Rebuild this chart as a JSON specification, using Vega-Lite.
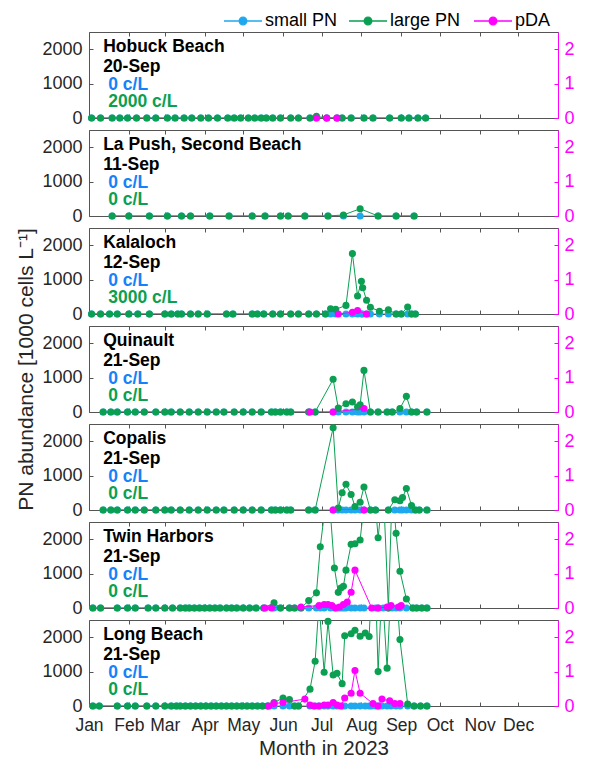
{
  "$schema": "https://vega.github.io/schema/vega-lite/v6.json",
  "padding": {"left": 15, "top": 12, "right": 5, "bottom": 0},
  "spacing": 12,
  "bounds": "flush",
  "config": {
    "font": "Liberation Sans",
    "view": {"stroke": "#555555", "strokeWidth": 1},
    "axis": {"grid": false}
  },
  "resolve": {"scale": {"x": "independent", "y": "independent", "color": "shared"}},
  "datasets": {
    "labels": [
      {"id": "hobuck", "name": "Hobuck Beach", "last": "20-Sep", "small": "0 c/L", "large": "2000 c/L"},
      {"id": "lapush", "name": "La Push, Second Beach", "last": "11-Sep", "small": "0 c/L", "large": "0 c/L"},
      {"id": "kalaloch", "name": "Kalaloch", "last": "12-Sep", "small": "0 c/L", "large": "3000 c/L"},
      {"id": "quinault", "name": "Quinault", "last": "21-Sep", "small": "0 c/L", "large": "0 c/L"},
      {"id": "copalis", "name": "Copalis", "last": "21-Sep", "small": "0 c/L", "large": "0 c/L"},
      {"id": "twin", "name": "Twin Harbors", "last": "21-Sep", "small": "0 c/L", "large": "0 c/L"},
      {"id": "long", "name": "Long Beach", "last": "21-Sep", "small": "0 c/L", "large": "0 c/L"}
    ],
    "hobuck": [
      {"date": "2023-01-03", "small": 0, "large": 0}, {"date": "2023-01-10", "small": 0, "large": 0}, {"date": "2023-01-19", "small": 0, "large": 0}, {"date": "2023-01-25", "small": 0, "large": 0}, {"date": "2023-01-31", "small": 0, "large": 0},
      {"date": "2023-02-07", "small": 0, "large": 0}, {"date": "2023-02-15", "small": 0, "large": 0}, {"date": "2023-02-22", "small": 0, "large": 0}, {"date": "2023-03-03", "small": 0, "large": 0}, {"date": "2023-03-09", "small": 0, "large": 0},
      {"date": "2023-03-16", "small": 0, "large": 0}, {"date": "2023-03-22", "small": 0, "large": 0}, {"date": "2023-03-29", "small": 0, "large": 0}, {"date": "2023-04-04", "small": 0, "large": 0}, {"date": "2023-04-11", "small": 0, "large": 0},
      {"date": "2023-04-19", "small": 0, "large": 0}, {"date": "2023-04-24", "small": 0, "large": 0}, {"date": "2023-04-29", "small": 0, "large": 0}, {"date": "2023-05-05", "small": 0, "large": 0}, {"date": "2023-05-10", "small": 0, "large": 0},
      {"date": "2023-05-15", "small": 0, "large": 0}, {"date": "2023-05-19", "small": 0, "large": 0}, {"date": "2023-05-24", "small": 0, "large": 0}, {"date": "2023-05-30", "small": 0, "large": 0}, {"date": "2023-06-07", "small": 0, "large": 0},
      {"date": "2023-06-13", "small": 0, "large": 0}, {"date": "2023-06-22", "small": 0, "large": 0}, {"date": "2023-06-27", "small": 0, "large": 50}, {"date": "2023-07-05", "small": 0, "large": 0}, {"date": "2023-07-13", "small": 0, "large": 0},
      {"date": "2023-07-17", "small": 0, "large": 0}, {"date": "2023-07-24", "small": 0, "large": 0}, {"date": "2023-08-03", "small": 0, "large": 0}, {"date": "2023-08-10", "small": 0, "large": 0}, {"date": "2023-08-23", "small": 0, "large": 0},
      {"date": "2023-09-01", "small": 0, "large": 0}, {"date": "2023-09-07", "small": 0, "large": 0}, {"date": "2023-09-14", "small": 0, "large": 0}, {"date": "2023-09-20", "small": 0, "large": 0}
    ],
    "hobuck_pda": [
      {"date": "2023-06-27", "pDA": 0}, {"date": "2023-07-05", "pDA": 0}, {"date": "2023-07-13", "pDA": 0}
    ],
    "lapush": [
      {"date": "2023-01-19", "small": 0, "large": 0}, {"date": "2023-02-01", "small": 0, "large": 0}, {"date": "2023-02-17", "small": 0, "large": 0}, {"date": "2023-03-03", "small": 0, "large": 0}, {"date": "2023-03-14", "small": 0, "large": 0},
      {"date": "2023-03-21", "small": 0, "large": 0}, {"date": "2023-04-05", "small": 0, "large": 0}, {"date": "2023-04-20", "small": 0, "large": 0}, {"date": "2023-05-08", "small": 0, "large": 0}, {"date": "2023-05-18", "small": 0, "large": 0},
      {"date": "2023-05-30", "small": 0, "large": 0}, {"date": "2023-06-05", "small": 0, "large": 0}, {"date": "2023-06-18", "small": 0, "large": 0}, {"date": "2023-07-06", "small": 0, "large": 0}, {"date": "2023-07-18", "small": 0, "large": 30},
      {"date": "2023-07-31", "small": 0, "large": 210}, {"date": "2023-08-14", "small": 0, "large": 0}, {"date": "2023-08-28", "small": 0, "large": 0}, {"date": "2023-09-11", "small": 0, "large": 0}
    ],
    "lapush_pda": [],
    "kalaloch": [
      {"date": "2023-01-03", "small": 0, "large": 0}, {"date": "2023-01-10", "small": 0, "large": 0}, {"date": "2023-01-17", "small": 0, "large": 0}, {"date": "2023-01-23", "small": 0, "large": 0}, {"date": "2023-02-01", "small": 0, "large": 0},
      {"date": "2023-02-08", "small": 0, "large": 0}, {"date": "2023-02-17", "small": 0, "large": 0}, {"date": "2023-03-01", "small": 0, "large": 0}, {"date": "2023-03-06", "small": 0, "large": 0}, {"date": "2023-03-11", "small": 0, "large": 0},
      {"date": "2023-03-14", "small": 0, "large": 0}, {"date": "2023-03-21", "small": 0, "large": 0}, {"date": "2023-03-27", "small": 0, "large": 0}, {"date": "2023-04-03", "small": 0, "large": 0}, {"date": "2023-04-18", "small": 0, "large": 0},
      {"date": "2023-04-23", "small": 0, "large": 0}, {"date": "2023-05-08", "small": 0, "large": 0}, {"date": "2023-05-12", "small": 0, "large": 0}, {"date": "2023-05-17", "small": 0, "large": 0}, {"date": "2023-05-24", "small": 0, "large": 0},
      {"date": "2023-05-30", "small": 0, "large": 0}, {"date": "2023-06-07", "small": 0, "large": 0}, {"date": "2023-06-13", "small": 0, "large": 0}, {"date": "2023-06-21", "small": 0, "large": 0}, {"date": "2023-06-27", "small": 0, "large": 0},
      {"date": "2023-07-04", "small": 0, "large": 0}, {"date": "2023-07-08", "small": 0, "large": 155}, {"date": "2023-07-12", "small": 0, "large": 135}, {"date": "2023-07-20", "small": 0, "large": 250}, {"date": "2023-07-25", "small": 0, "large": 1755},
      {"date": "2023-07-29", "small": 0, "large": 525}, {"date": "2023-08-01", "small": 0, "large": 950}, {"date": "2023-08-02", "small": 0, "large": 765}, {"date": "2023-08-05", "small": 0, "large": 400}, {"date": "2023-08-08", "small": 0, "large": 195},
      {"date": "2023-08-15", "small": 0, "large": 80}, {"date": "2023-08-22", "small": 0, "large": 125}, {"date": "2023-08-28", "small": 0, "large": 0}, {"date": "2023-09-01", "small": 0, "large": 0}, {"date": "2023-09-06", "small": 0, "large": 200},
      {"date": "2023-09-09", "small": 0, "large": 0}, {"date": "2023-09-12", "small": 0, "large": 0}
    ],
    "kalaloch_pda": [
      {"date": "2023-07-14", "pDA": 0}, {"date": "2023-07-25", "pDA": 0.05}, {"date": "2023-07-29", "pDA": 0.1}, {"date": "2023-08-05", "pDA": 0}
    ],
    "quinault": [
      {"date": "2023-01-12", "small": 0, "large": 0}, {"date": "2023-01-18", "small": 0, "large": 0}, {"date": "2023-01-23", "small": 0, "large": 0}, {"date": "2023-01-31", "small": 0, "large": 0}, {"date": "2023-02-06", "small": 0, "large": 0},
      {"date": "2023-02-13", "small": 0, "large": 0}, {"date": "2023-02-22", "small": 0, "large": 0}, {"date": "2023-03-01", "small": 0, "large": 0}, {"date": "2023-03-06", "small": 0, "large": 0}, {"date": "2023-03-13", "small": 0, "large": 0},
      {"date": "2023-03-20", "small": 0, "large": 0}, {"date": "2023-03-27", "small": 0, "large": 0}, {"date": "2023-04-03", "small": 0, "large": 0}, {"date": "2023-04-10", "small": 0, "large": 0}, {"date": "2023-04-16", "small": 0, "large": 0},
      {"date": "2023-04-24", "small": 0, "large": 0}, {"date": "2023-05-01", "small": 0, "large": 0}, {"date": "2023-05-08", "small": 0, "large": 0}, {"date": "2023-05-15", "small": 0, "large": 0}, {"date": "2023-05-23", "small": 0, "large": 0},
      {"date": "2023-05-26", "small": 0, "large": 0}, {"date": "2023-05-30", "small": 0, "large": 0}, {"date": "2023-06-04", "small": 0, "large": 0}, {"date": "2023-06-07", "small": 0, "large": 0}, {"date": "2023-06-21", "small": 0, "large": 0},
      {"date": "2023-06-26", "small": 0, "large": 0}, {"date": "2023-07-10", "small": 0, "large": 950}, {"date": "2023-07-14", "small": 0, "large": 115}, {"date": "2023-07-20", "small": 0, "large": 240}, {"date": "2023-07-25", "small": 0, "large": 290},
      {"date": "2023-07-29", "small": 0, "large": 145}, {"date": "2023-07-31", "small": 0, "large": 210}, {"date": "2023-08-03", "small": 0, "large": 1210}, {"date": "2023-08-08", "small": 0, "large": 0}, {"date": "2023-08-14", "small": 0, "large": 0},
      {"date": "2023-08-21", "small": 0, "large": 0}, {"date": "2023-08-25", "small": 0, "large": 0}, {"date": "2023-08-31", "small": 0, "large": 100}, {"date": "2023-09-05", "small": 0, "large": 455}, {"date": "2023-09-09", "small": 0, "large": 0},
      {"date": "2023-09-13", "small": 0, "large": 0}, {"date": "2023-09-21", "small": 0, "large": 0}
    ],
    "quinault_pda": [
      {"date": "2023-06-22", "pDA": 0}, {"date": "2023-07-10", "pDA": 0}, {"date": "2023-08-03", "pDA": 0.1}
    ],
    "copalis": [
      {"date": "2023-01-12", "small": 0, "large": 0}, {"date": "2023-01-18", "small": 0, "large": 0}, {"date": "2023-01-23", "small": 0, "large": 0}, {"date": "2023-01-31", "small": 0, "large": 0}, {"date": "2023-02-06", "small": 0, "large": 0},
      {"date": "2023-02-13", "small": 0, "large": 0}, {"date": "2023-02-22", "small": 0, "large": 0}, {"date": "2023-03-01", "small": 0, "large": 0}, {"date": "2023-03-06", "small": 0, "large": 0}, {"date": "2023-03-13", "small": 0, "large": 0},
      {"date": "2023-03-20", "small": 0, "large": 0}, {"date": "2023-03-27", "small": 0, "large": 0}, {"date": "2023-04-03", "small": 0, "large": 0}, {"date": "2023-04-10", "small": 0, "large": 0}, {"date": "2023-04-16", "small": 0, "large": 0},
      {"date": "2023-04-24", "small": 0, "large": 0}, {"date": "2023-05-01", "small": 0, "large": 0}, {"date": "2023-05-08", "small": 0, "large": 0}, {"date": "2023-05-15", "small": 0, "large": 0}, {"date": "2023-05-23", "small": 0, "large": 0},
      {"date": "2023-05-26", "small": 0, "large": 0}, {"date": "2023-05-30", "small": 0, "large": 0}, {"date": "2023-06-04", "small": 0, "large": 0}, {"date": "2023-06-07", "small": 0, "large": 0}, {"date": "2023-06-21", "small": 0, "large": 0},
      {"date": "2023-06-26", "small": 0, "large": 0}, {"date": "2023-07-10", "small": 0, "large": 2390}, {"date": "2023-07-14", "small": 0, "large": 60}, {"date": "2023-07-17", "small": 0, "large": 500}, {"date": "2023-07-20", "small": 0, "large": 750},
      {"date": "2023-07-24", "small": 0, "large": 450}, {"date": "2023-07-27", "small": 0, "large": 100}, {"date": "2023-07-31", "small": 0, "large": 225}, {"date": "2023-08-03", "small": 0, "large": 670}, {"date": "2023-08-08", "small": 0, "large": 0},
      {"date": "2023-08-12", "small": 0, "large": 0}, {"date": "2023-08-22", "small": 0, "large": 0}, {"date": "2023-08-27", "small": 0, "large": 300}, {"date": "2023-08-31", "small": 0, "large": 270}, {"date": "2023-09-02", "small": 0, "large": 360},
      {"date": "2023-09-05", "small": 0, "large": 625}, {"date": "2023-09-09", "small": 0, "large": 130}, {"date": "2023-09-12", "small": 0, "large": 0}, {"date": "2023-09-15", "small": 0, "large": 0}, {"date": "2023-09-21", "small": 0, "large": 0}
    ],
    "copalis_pda": [
      {"date": "2023-07-10", "pDA": 0}, {"date": "2023-08-03", "pDA": 0}
    ],
    "twin": [
      {"date": "2023-01-04", "small": 0, "large": 0}, {"date": "2023-01-10", "small": 0, "large": 0}, {"date": "2023-01-23", "small": 0, "large": 0}, {"date": "2023-01-31", "small": 0, "large": 0}, {"date": "2023-02-06", "small": 0, "large": 0},
      {"date": "2023-02-16", "small": 0, "large": 0}, {"date": "2023-02-22", "small": 0, "large": 0}, {"date": "2023-03-01", "small": 0, "large": 0}, {"date": "2023-03-07", "small": 0, "large": 0}, {"date": "2023-03-13", "small": 0, "large": 0},
      {"date": "2023-03-17", "small": 0, "large": 0}, {"date": "2023-03-20", "small": 0, "large": 0}, {"date": "2023-03-24", "small": 0, "large": 0}, {"date": "2023-03-28", "small": 0, "large": 0}, {"date": "2023-04-01", "small": 0, "large": 0},
      {"date": "2023-04-05", "small": 0, "large": 0}, {"date": "2023-04-09", "small": 0, "large": 0}, {"date": "2023-04-13", "small": 0, "large": 0}, {"date": "2023-04-18", "small": 0, "large": 0}, {"date": "2023-04-22", "small": 0, "large": 0},
      {"date": "2023-04-26", "small": 0, "large": 0}, {"date": "2023-05-01", "small": 0, "large": 0}, {"date": "2023-05-06", "small": 0, "large": 0}, {"date": "2023-05-11", "small": 0, "large": 0}, {"date": "2023-05-17", "small": 0, "large": 0},
      {"date": "2023-05-25", "small": 0, "large": 150}, {"date": "2023-05-30", "small": 0, "large": 0}, {"date": "2023-06-06", "small": 0, "large": 0}, {"date": "2023-06-10", "small": 0, "large": 0}, {"date": "2023-06-15", "small": 0, "large": 0},
      {"date": "2023-06-21", "small": 0, "large": 215}, {"date": "2023-06-27", "small": 0, "large": 440}, {"date": "2023-06-30", "small": 0, "large": 1780}, {"date": "2023-07-03", "small": 0, "large": 2700}, {"date": "2023-07-08", "small": 0, "large": 2700},
      {"date": "2023-07-11", "small": 0, "large": 1165}, {"date": "2023-07-14", "small": 0, "large": 455}, {"date": "2023-07-16", "small": 0, "large": 580}, {"date": "2023-07-18", "small": 0, "large": 630}, {"date": "2023-07-20", "small": 0, "large": 1100},
      {"date": "2023-07-24", "small": 0, "large": 1850}, {"date": "2023-07-27", "small": 0, "large": 1870}, {"date": "2023-07-31", "small": 0, "large": 1975}, {"date": "2023-08-03", "small": 0, "large": 3000}, {"date": "2023-08-12", "small": 0, "large": 3000},
      {"date": "2023-08-14", "small": 0, "large": 2040}, {"date": "2023-08-18", "small": 0, "large": 3500}, {"date": "2023-08-22", "small": 0, "large": 0}, {"date": "2023-08-25", "small": 0, "large": 3500}, {"date": "2023-08-28", "small": 0, "large": 2170},
      {"date": "2023-08-31", "small": 0, "large": 1070}, {"date": "2023-09-05", "small": 0, "large": 260}, {"date": "2023-09-10", "small": 0, "large": 0}, {"date": "2023-09-13", "small": 0, "large": 0}, {"date": "2023-09-17", "small": 0, "large": 0},
      {"date": "2023-09-21", "small": 0, "large": 0}
    ],
    "twin_pda": [
      {"date": "2023-05-18", "pDA": 0}, {"date": "2023-05-23", "pDA": 0}, {"date": "2023-06-15", "pDA": 0.03}, {"date": "2023-06-29", "pDA": 0.07}, {"date": "2023-07-03", "pDA": 0.1},
      {"date": "2023-07-06", "pDA": 0.1}, {"date": "2023-07-09", "pDA": 0.07}, {"date": "2023-07-12", "pDA": 0}, {"date": "2023-07-15", "pDA": 0.03}, {"date": "2023-07-18", "pDA": 0.1},
      {"date": "2023-07-21", "pDA": 0.17}, {"date": "2023-07-24", "pDA": 0.46}, {"date": "2023-07-27", "pDA": 1.1}, {"date": "2023-08-09", "pDA": 0}, {"date": "2023-08-14", "pDA": 0},
      {"date": "2023-08-21", "pDA": 0.03}, {"date": "2023-08-24", "pDA": 0.07}, {"date": "2023-08-30", "pDA": 0.03}, {"date": "2023-09-01", "pDA": 0.07}
    ],
    "long": [
      {"date": "2023-01-04", "small": 0, "large": 0}, {"date": "2023-01-09", "small": 0, "large": 0}, {"date": "2023-01-23", "small": 0, "large": 0}, {"date": "2023-01-31", "small": 0, "large": 0}, {"date": "2023-02-06", "small": 0, "large": 0},
      {"date": "2023-02-15", "small": 0, "large": 0}, {"date": "2023-02-22", "small": 0, "large": 0}, {"date": "2023-03-01", "small": 0, "large": 0}, {"date": "2023-03-06", "small": 0, "large": 0}, {"date": "2023-03-10", "small": 0, "large": 0},
      {"date": "2023-03-13", "small": 0, "large": 0}, {"date": "2023-03-17", "small": 0, "large": 0}, {"date": "2023-03-21", "small": 0, "large": 0}, {"date": "2023-03-25", "small": 0, "large": 0}, {"date": "2023-03-29", "small": 0, "large": 0},
      {"date": "2023-04-02", "small": 0, "large": 0}, {"date": "2023-04-06", "small": 0, "large": 0}, {"date": "2023-04-10", "small": 0, "large": 0}, {"date": "2023-04-14", "small": 0, "large": 0}, {"date": "2023-04-18", "small": 0, "large": 0},
      {"date": "2023-04-22", "small": 0, "large": 0}, {"date": "2023-04-26", "small": 0, "large": 0}, {"date": "2023-04-30", "small": 0, "large": 0}, {"date": "2023-05-04", "small": 0, "large": 0}, {"date": "2023-05-08", "small": 0, "large": 0},
      {"date": "2023-05-12", "small": 0, "large": 0}, {"date": "2023-05-16", "small": 0, "large": 0}, {"date": "2023-05-20", "small": 0, "large": 0}, {"date": "2023-05-25", "small": 0, "large": 100}, {"date": "2023-06-01", "small": 0, "large": 230},
      {"date": "2023-06-06", "small": 0, "large": 190}, {"date": "2023-06-10", "small": 0, "large": 0}, {"date": "2023-06-13", "small": 0, "large": 0}, {"date": "2023-06-22", "small": 0, "large": 490}, {"date": "2023-06-26", "small": 0, "large": 1300},
      {"date": "2023-06-29", "small": 0, "large": 3000}, {"date": "2023-07-03", "small": 0, "large": 980}, {"date": "2023-07-06", "small": 0, "large": 2460}, {"date": "2023-07-10", "small": 0, "large": 900}, {"date": "2023-07-13", "small": 0, "large": 950},
      {"date": "2023-07-17", "small": 0, "large": 650}, {"date": "2023-07-19", "small": 0, "large": 2040}, {"date": "2023-07-24", "small": 0, "large": 2100}, {"date": "2023-07-27", "small": 0, "large": 2200}, {"date": "2023-07-31", "small": 0, "large": 2030},
      {"date": "2023-08-04", "small": 0, "large": 2120}, {"date": "2023-08-07", "small": 0, "large": 2020}, {"date": "2023-08-09", "small": 0, "large": 3500}, {"date": "2023-08-12", "small": 0, "large": 3500}, {"date": "2023-08-14", "small": 0, "large": 1000},
      {"date": "2023-08-17", "small": 0, "large": 3500}, {"date": "2023-08-21", "small": 0, "large": 1100}, {"date": "2023-08-24", "small": 0, "large": 3500}, {"date": "2023-08-28", "small": 0, "large": 3500}, {"date": "2023-08-31", "small": 0, "large": 1930},
      {"date": "2023-09-06", "small": 0, "large": 60}, {"date": "2023-09-11", "small": 0, "large": 0}, {"date": "2023-09-16", "small": 0, "large": 0}, {"date": "2023-09-21", "small": 0, "large": 0}
    ],
    "long_pda": [
      {"date": "2023-05-21", "pDA": 0}, {"date": "2023-05-25", "pDA": 0.07}, {"date": "2023-06-01", "pDA": 0.1}, {"date": "2023-06-18", "pDA": 0.2}, {"date": "2023-06-22", "pDA": 0.03},
      {"date": "2023-06-25", "pDA": 0}, {"date": "2023-06-29", "pDA": 0}, {"date": "2023-07-03", "pDA": 0.03}, {"date": "2023-07-06", "pDA": 0.03}, {"date": "2023-07-10", "pDA": 0.1},
      {"date": "2023-07-13", "pDA": 0.03}, {"date": "2023-07-16", "pDA": 0}, {"date": "2023-07-19", "pDA": 0.23}, {"date": "2023-07-24", "pDA": 0.37}, {"date": "2023-07-27", "pDA": 1.03},
      {"date": "2023-07-31", "pDA": 0.37}, {"date": "2023-08-10", "pDA": 0.07}, {"date": "2023-08-14", "pDA": 0}, {"date": "2023-08-17", "pDA": 0.2}, {"date": "2023-08-23", "pDA": 0.15},
      {"date": "2023-08-27", "pDA": 0.07}, {"date": "2023-08-31", "pDA": 0.07}
    ]
  },
  "vconcat": [
    {"width": 469, "height": 86, "resolve": {"scale": {"y": "independent"}},
     "layer": [
      {"layer": [
        {"data": {"name": "hobuck"}, "mark": {"type": "line", "strokeWidth": 1, "clip": true},
         "encoding": {
           "x": {"field": "date", "type": "temporal", "scale": {"type": "utc", "domain": [1672531200000, 1704067200000]},
                 "axis": {"orient": "bottom", "values": [1672531200000,1673740800000,1675209600000,1676419200000,1677628800000,1678838400000,1680307200000,1681516800000,1682899200000,1684108800000,1685577600000,1686787200000,1688169600000,1689379200000,1690848000000,1692057600000,1693526400000,1694736000000,1696118400000,1697328000000,1698796800000,1700006400000,1701388800000,1702598400000], "labels": false, "tickSize": -4, "tickColor": "#555555", "domain": false, "title": null}},
           "y": {"field": "small", "type": "quantitative", "scale": {"domain": [0, 2500], "nice": false},
                 "axis": {"orient": "left", "values": [0, 1000, 2000], "format": "d", "tickSize": -4, "tickColor": "#555555", "labelPadding": 11, "labelFontSize": 18, "labelColor": "#262626", "domain": false, "title": null}},
           "color": {"datum": "small PN", "scale": {"domain": ["small PN", "large PN", "pDA"], "range": ["#1fa8ee", "#0b9f52", "#ff00ff"]}}}},
        {"data": {"name": "hobuck"}, "mark": {"type": "point", "filled": true, "size": 50, "opacity": 1},
         "encoding": {"x": {"field": "date", "type": "temporal"}, "y": {"field": "small", "type": "quantitative"},
           "color": {"datum": "small PN", "scale": {"domain": ["small PN", "large PN", "pDA"], "range": ["#1fa8ee", "#0b9f52", "#ff00ff"]},
             "legend": {"orient": "none", "legendX": 145, "legendY": -20, "direction": "horizontal", "columns": 3, "gridAlign": "all", "title": null,
                        "symbolType": "M-5,0L5,0M1,0A1,1,0,1,1,-1,0A1,1,0,1,1,1,0Z", "symbolSize": 58, "symbolStrokeWidth": 1.3,
                        "labelFontSize": 18, "labelColor": "#000000", "labelOffset": 13, "columnPadding": 8, "labelLimit": 200,
                        "encode": {"symbols": {"update": {"fill": {"scale": "color", "field": "value"}, "stroke": {"scale": "color", "field": "value"}, "opacity": {"value": 1}}}}}}}},
        {"data": {"name": "hobuck"}, "mark": {"type": "line", "strokeWidth": 1, "clip": true},
         "encoding": {"x": {"field": "date", "type": "temporal"}, "y": {"field": "large", "type": "quantitative"}, "color": {"datum": "large PN"}}},
        {"data": {"name": "hobuck"}, "transform": [{"filter": "datum.large <= 2500"}], "mark": {"type": "point", "filled": true, "size": 50, "opacity": 1},
         "encoding": {"x": {"field": "date", "type": "temporal"}, "y": {"field": "large", "type": "quantitative"}, "color": {"datum": "large PN"}}},
        {"data": {"name": "labels"}, "transform": [{"filter": "datum.id === 'hobuck'"}],
         "layer": [
           {"mark": {"type": "text", "align": "left", "baseline": "alphabetic", "fontSize": 17.5, "fontWeight": "bold", "color": "#000000"},
            "encoding": {"x": {"datum": {"year": 2023, "month": 1, "date": 12, "utc": true}, "type": "temporal"}, "y": {"datum": 1930, "type": "quantitative"}, "text": {"field": "name"}}},
           {"mark": {"type": "text", "align": "left", "baseline": "alphabetic", "fontSize": 17.5, "fontWeight": "bold", "color": "#000000"},
            "encoding": {"x": {"datum": {"year": 2023, "month": 1, "date": 12, "utc": true}, "type": "temporal"}, "y": {"datum": 1350, "type": "quantitative"}, "text": {"field": "last"}}},
           {"mark": {"type": "text", "align": "left", "baseline": "alphabetic", "fontSize": 17.5, "fontWeight": "bold", "color": "#1482fa"},
            "encoding": {"x": {"datum": {"year": 2023, "month": 1, "date": 16, "utc": true}, "type": "temporal"}, "y": {"datum": 810, "type": "quantitative"}, "text": {"field": "small"}}},
           {"mark": {"type": "text", "align": "left", "baseline": "alphabetic", "fontSize": 17.5, "fontWeight": "bold", "color": "#0c9f50"},
            "encoding": {"x": {"datum": {"year": 2023, "month": 1, "date": 16, "utc": true}, "type": "temporal"}, "y": {"datum": 325, "type": "quantitative"}, "text": {"field": "large"}}}
         ]}
      ]},
      {"layer": [
        {"data": {"name": "hobuck_pda"}, "mark": {"type": "line", "strokeWidth": 1, "clip": true},
         "encoding": {
           "x": {"field": "date", "type": "temporal", "scale": {"type": "utc", "domain": [1672531200000, 1704067200000]},
                 "axis": {"orient": "top", "values": [1672531200000,1673740800000,1675209600000,1676419200000,1677628800000,1678838400000,1680307200000,1681516800000,1682899200000,1684108800000,1685577600000,1686787200000,1688169600000,1689379200000,1690848000000,1692057600000,1693526400000,1694736000000,1696118400000,1697328000000,1698796800000,1700006400000,1701388800000,1702598400000], "labels": false, "tickSize": -4, "tickColor": "#555555", "domain": false, "title": null}},
           "y": {"field": "pDA", "type": "quantitative", "scale": {"domain": [0, 2.5], "nice": false},
                 "axis": {"orient": "right", "values": [0, 1, 2], "tickSize": -4, "tickColor": "#ff00ff", "labelPadding": 10, "labelFontSize": 18, "labelColor": "#ff00ff", "domain": true, "domainColor": "#ff00ff", "title": null}},
           "color": {"datum": "pDA"}}},
        {"data": {"name": "hobuck_pda"}, "mark": {"type": "point", "filled": true, "size": 50, "opacity": 1},
         "encoding": {"x": {"field": "date", "type": "temporal"}, "y": {"field": "pDA", "type": "quantitative"}, "color": {"datum": "pDA"}}}
      ]}
     ]},
    {"width": 469, "height": 86, "resolve": {"scale": {"y": "independent"}},
     "layer": [
      {"layer": [
        {"data": {"name": "lapush"}, "mark": {"type": "line", "strokeWidth": 1, "clip": true},
         "encoding": {
           "x": {"field": "date", "type": "temporal", "scale": {"type": "utc", "domain": [1672531200000, 1704067200000]},
                 "axis": {"orient": "bottom", "values": [1672531200000,1673740800000,1675209600000,1676419200000,1677628800000,1678838400000,1680307200000,1681516800000,1682899200000,1684108800000,1685577600000,1686787200000,1688169600000,1689379200000,1690848000000,1692057600000,1693526400000,1694736000000,1696118400000,1697328000000,1698796800000,1700006400000,1701388800000,1702598400000], "labels": false, "tickSize": -4, "tickColor": "#555555", "domain": false, "title": null}},
           "y": {"field": "small", "type": "quantitative", "scale": {"domain": [0, 2500], "nice": false},
                 "axis": {"orient": "left", "values": [0, 1000, 2000], "format": "d", "tickSize": -4, "tickColor": "#555555", "labelPadding": 11, "labelFontSize": 18, "labelColor": "#262626", "domain": false, "title": null}},
           "color": {"datum": "small PN"}}},
        {"data": {"name": "lapush"}, "mark": {"type": "point", "filled": true, "size": 50, "opacity": 1},
         "encoding": {"x": {"field": "date", "type": "temporal"}, "y": {"field": "small", "type": "quantitative"}, "color": {"datum": "small PN"}}},
        {"data": {"name": "lapush"}, "mark": {"type": "line", "strokeWidth": 1, "clip": true},
         "encoding": {"x": {"field": "date", "type": "temporal"}, "y": {"field": "large", "type": "quantitative"}, "color": {"datum": "large PN"}}},
        {"data": {"name": "lapush"}, "transform": [{"filter": "datum.large <= 2500"}], "mark": {"type": "point", "filled": true, "size": 50, "opacity": 1},
         "encoding": {"x": {"field": "date", "type": "temporal"}, "y": {"field": "large", "type": "quantitative"}, "color": {"datum": "large PN"}}},
        {"data": {"name": "labels"}, "transform": [{"filter": "datum.id === 'lapush'"}],
         "layer": [
           {"mark": {"type": "text", "align": "left", "baseline": "alphabetic", "fontSize": 17.5, "fontWeight": "bold", "color": "#000000"},
            "encoding": {"x": {"datum": {"year": 2023, "month": 1, "date": 12, "utc": true}, "type": "temporal"}, "y": {"datum": 1930, "type": "quantitative"}, "text": {"field": "name"}}},
           {"mark": {"type": "text", "align": "left", "baseline": "alphabetic", "fontSize": 17.5, "fontWeight": "bold", "color": "#000000"},
            "encoding": {"x": {"datum": {"year": 2023, "month": 1, "date": 12, "utc": true}, "type": "temporal"}, "y": {"datum": 1350, "type": "quantitative"}, "text": {"field": "last"}}},
           {"mark": {"type": "text", "align": "left", "baseline": "alphabetic", "fontSize": 17.5, "fontWeight": "bold", "color": "#1482fa"},
            "encoding": {"x": {"datum": {"year": 2023, "month": 1, "date": 16, "utc": true}, "type": "temporal"}, "y": {"datum": 810, "type": "quantitative"}, "text": {"field": "small"}}},
           {"mark": {"type": "text", "align": "left", "baseline": "alphabetic", "fontSize": 17.5, "fontWeight": "bold", "color": "#0c9f50"},
            "encoding": {"x": {"datum": {"year": 2023, "month": 1, "date": 16, "utc": true}, "type": "temporal"}, "y": {"datum": 325, "type": "quantitative"}, "text": {"field": "large"}}}
         ]}
      ]},
      {"layer": [
        {"data": {"name": "lapush_pda"}, "mark": {"type": "line", "strokeWidth": 1, "clip": true},
         "encoding": {
           "x": {"field": "date", "type": "temporal", "scale": {"type": "utc", "domain": [1672531200000, 1704067200000]},
                 "axis": {"orient": "top", "values": [1672531200000,1673740800000,1675209600000,1676419200000,1677628800000,1678838400000,1680307200000,1681516800000,1682899200000,1684108800000,1685577600000,1686787200000,1688169600000,1689379200000,1690848000000,1692057600000,1693526400000,1694736000000,1696118400000,1697328000000,1698796800000,1700006400000,1701388800000,1702598400000], "labels": false, "tickSize": -4, "tickColor": "#555555", "domain": false, "title": null}},
           "y": {"field": "pDA", "type": "quantitative", "scale": {"domain": [0, 2.5], "nice": false},
                 "axis": {"orient": "right", "values": [0, 1, 2], "tickSize": -4, "tickColor": "#ff00ff", "labelPadding": 10, "labelFontSize": 18, "labelColor": "#ff00ff", "domain": true, "domainColor": "#ff00ff", "title": null}},
           "color": {"datum": "pDA"}}},
        {"data": {"name": "lapush_pda"}, "mark": {"type": "point", "filled": true, "size": 50, "opacity": 1},
         "encoding": {"x": {"field": "date", "type": "temporal"}, "y": {"field": "pDA", "type": "quantitative"}, "color": {"datum": "pDA"}}}
      ]}
     ]},
    {"width": 469, "height": 86, "resolve": {"scale": {"y": "independent"}},
     "layer": [
      {"layer": [
        {"data": {"name": "kalaloch"}, "mark": {"type": "line", "strokeWidth": 1, "clip": true},
         "encoding": {
           "x": {"field": "date", "type": "temporal", "scale": {"type": "utc", "domain": [1672531200000, 1704067200000]},
                 "axis": {"orient": "bottom", "values": [1672531200000,1673740800000,1675209600000,1676419200000,1677628800000,1678838400000,1680307200000,1681516800000,1682899200000,1684108800000,1685577600000,1686787200000,1688169600000,1689379200000,1690848000000,1692057600000,1693526400000,1694736000000,1696118400000,1697328000000,1698796800000,1700006400000,1701388800000,1702598400000], "labels": false, "tickSize": -4, "tickColor": "#555555", "domain": false, "title": null}},
           "y": {"field": "small", "type": "quantitative", "scale": {"domain": [0, 2500], "nice": false},
                 "axis": {"orient": "left", "values": [0, 1000, 2000], "format": "d", "tickSize": -4, "tickColor": "#555555", "labelPadding": 11, "labelFontSize": 18, "labelColor": "#262626", "domain": false, "title": null}},
           "color": {"datum": "small PN"}}},
        {"data": {"name": "kalaloch"}, "mark": {"type": "point", "filled": true, "size": 50, "opacity": 1},
         "encoding": {"x": {"field": "date", "type": "temporal"}, "y": {"field": "small", "type": "quantitative"}, "color": {"datum": "small PN"}}},
        {"data": {"name": "kalaloch"}, "mark": {"type": "line", "strokeWidth": 1, "clip": true},
         "encoding": {"x": {"field": "date", "type": "temporal"}, "y": {"field": "large", "type": "quantitative"}, "color": {"datum": "large PN"}}},
        {"data": {"name": "kalaloch"}, "transform": [{"filter": "datum.large <= 2500"}], "mark": {"type": "point", "filled": true, "size": 50, "opacity": 1},
         "encoding": {"x": {"field": "date", "type": "temporal"}, "y": {"field": "large", "type": "quantitative"}, "color": {"datum": "large PN"}}},
        {"data": {"name": "labels"}, "transform": [{"filter": "datum.id === 'kalaloch'"}],
         "layer": [
           {"mark": {"type": "text", "align": "left", "baseline": "alphabetic", "fontSize": 17.5, "fontWeight": "bold", "color": "#000000"},
            "encoding": {"x": {"datum": {"year": 2023, "month": 1, "date": 12, "utc": true}, "type": "temporal"}, "y": {"datum": 1930, "type": "quantitative"}, "text": {"field": "name"}}},
           {"mark": {"type": "text", "align": "left", "baseline": "alphabetic", "fontSize": 17.5, "fontWeight": "bold", "color": "#000000"},
            "encoding": {"x": {"datum": {"year": 2023, "month": 1, "date": 12, "utc": true}, "type": "temporal"}, "y": {"datum": 1350, "type": "quantitative"}, "text": {"field": "last"}}},
           {"mark": {"type": "text", "align": "left", "baseline": "alphabetic", "fontSize": 17.5, "fontWeight": "bold", "color": "#1482fa"},
            "encoding": {"x": {"datum": {"year": 2023, "month": 1, "date": 16, "utc": true}, "type": "temporal"}, "y": {"datum": 810, "type": "quantitative"}, "text": {"field": "small"}}},
           {"mark": {"type": "text", "align": "left", "baseline": "alphabetic", "fontSize": 17.5, "fontWeight": "bold", "color": "#0c9f50"},
            "encoding": {"x": {"datum": {"year": 2023, "month": 1, "date": 16, "utc": true}, "type": "temporal"}, "y": {"datum": 325, "type": "quantitative"}, "text": {"field": "large"}}}
         ]}
      ]},
      {"layer": [
        {"data": {"name": "kalaloch_pda"}, "mark": {"type": "line", "strokeWidth": 1, "clip": true},
         "encoding": {
           "x": {"field": "date", "type": "temporal", "scale": {"type": "utc", "domain": [1672531200000, 1704067200000]},
                 "axis": {"orient": "top", "values": [1672531200000,1673740800000,1675209600000,1676419200000,1677628800000,1678838400000,1680307200000,1681516800000,1682899200000,1684108800000,1685577600000,1686787200000,1688169600000,1689379200000,1690848000000,1692057600000,1693526400000,1694736000000,1696118400000,1697328000000,1698796800000,1700006400000,1701388800000,1702598400000], "labels": false, "tickSize": -4, "tickColor": "#555555", "domain": false, "title": null}},
           "y": {"field": "pDA", "type": "quantitative", "scale": {"domain": [0, 2.5], "nice": false},
                 "axis": {"orient": "right", "values": [0, 1, 2], "tickSize": -4, "tickColor": "#ff00ff", "labelPadding": 10, "labelFontSize": 18, "labelColor": "#ff00ff", "domain": true, "domainColor": "#ff00ff", "title": null}},
           "color": {"datum": "pDA"}}},
        {"data": {"name": "kalaloch_pda"}, "mark": {"type": "point", "filled": true, "size": 50, "opacity": 1},
         "encoding": {"x": {"field": "date", "type": "temporal"}, "y": {"field": "pDA", "type": "quantitative"}, "color": {"datum": "pDA"}}}
      ]}
     ]},
    {"width": 469, "height": 86, "resolve": {"scale": {"y": "independent"}},
     "layer": [
      {"layer": [
        {"data": {"name": "quinault"}, "mark": {"type": "line", "strokeWidth": 1, "clip": true},
         "encoding": {
           "x": {"field": "date", "type": "temporal", "scale": {"type": "utc", "domain": [1672531200000, 1704067200000]},
                 "axis": {"orient": "bottom", "values": [1672531200000,1673740800000,1675209600000,1676419200000,1677628800000,1678838400000,1680307200000,1681516800000,1682899200000,1684108800000,1685577600000,1686787200000,1688169600000,1689379200000,1690848000000,1692057600000,1693526400000,1694736000000,1696118400000,1697328000000,1698796800000,1700006400000,1701388800000,1702598400000], "labels": false, "tickSize": -4, "tickColor": "#555555", "domain": false, "title": null}},
           "y": {"field": "small", "type": "quantitative", "scale": {"domain": [0, 2500], "nice": false},
                 "axis": {"orient": "left", "values": [0, 1000, 2000], "format": "d", "tickSize": -4, "tickColor": "#555555", "labelPadding": 11, "labelFontSize": 18, "labelColor": "#262626", "domain": false,
                          "title": "PN abundance [1000 cells L⁻¹]", "titleFontSize": 21, "titleFontWeight": "normal", "titleColor": "#262626", "titlePadding": 5}},
           "color": {"datum": "small PN"}}},
        {"data": {"name": "quinault"}, "mark": {"type": "point", "filled": true, "size": 50, "opacity": 1},
         "encoding": {"x": {"field": "date", "type": "temporal"}, "y": {"field": "small", "type": "quantitative"}, "color": {"datum": "small PN"}}},
        {"data": {"name": "quinault"}, "mark": {"type": "line", "strokeWidth": 1, "clip": true},
         "encoding": {"x": {"field": "date", "type": "temporal"}, "y": {"field": "large", "type": "quantitative"}, "color": {"datum": "large PN"}}},
        {"data": {"name": "quinault"}, "transform": [{"filter": "datum.large <= 2500"}], "mark": {"type": "point", "filled": true, "size": 50, "opacity": 1},
         "encoding": {"x": {"field": "date", "type": "temporal"}, "y": {"field": "large", "type": "quantitative"}, "color": {"datum": "large PN"}}},
        {"data": {"name": "labels"}, "transform": [{"filter": "datum.id === 'quinault'"}],
         "layer": [
           {"mark": {"type": "text", "align": "left", "baseline": "alphabetic", "fontSize": 17.5, "fontWeight": "bold", "color": "#000000"},
            "encoding": {"x": {"datum": {"year": 2023, "month": 1, "date": 12, "utc": true}, "type": "temporal"}, "y": {"datum": 1930, "type": "quantitative"}, "text": {"field": "name"}}},
           {"mark": {"type": "text", "align": "left", "baseline": "alphabetic", "fontSize": 17.5, "fontWeight": "bold", "color": "#000000"},
            "encoding": {"x": {"datum": {"year": 2023, "month": 1, "date": 12, "utc": true}, "type": "temporal"}, "y": {"datum": 1350, "type": "quantitative"}, "text": {"field": "last"}}},
           {"mark": {"type": "text", "align": "left", "baseline": "alphabetic", "fontSize": 17.5, "fontWeight": "bold", "color": "#1482fa"},
            "encoding": {"x": {"datum": {"year": 2023, "month": 1, "date": 16, "utc": true}, "type": "temporal"}, "y": {"datum": 810, "type": "quantitative"}, "text": {"field": "small"}}},
           {"mark": {"type": "text", "align": "left", "baseline": "alphabetic", "fontSize": 17.5, "fontWeight": "bold", "color": "#0c9f50"},
            "encoding": {"x": {"datum": {"year": 2023, "month": 1, "date": 16, "utc": true}, "type": "temporal"}, "y": {"datum": 325, "type": "quantitative"}, "text": {"field": "large"}}}
         ]}
      ]},
      {"layer": [
        {"data": {"name": "quinault_pda"}, "mark": {"type": "line", "strokeWidth": 1, "clip": true},
         "encoding": {
           "x": {"field": "date", "type": "temporal", "scale": {"type": "utc", "domain": [1672531200000, 1704067200000]},
                 "axis": {"orient": "top", "values": [1672531200000,1673740800000,1675209600000,1676419200000,1677628800000,1678838400000,1680307200000,1681516800000,1682899200000,1684108800000,1685577600000,1686787200000,1688169600000,1689379200000,1690848000000,1692057600000,1693526400000,1694736000000,1696118400000,1697328000000,1698796800000,1700006400000,1701388800000,1702598400000], "labels": false, "tickSize": -4, "tickColor": "#555555", "domain": false, "title": null}},
           "y": {"field": "pDA", "type": "quantitative", "scale": {"domain": [0, 2.5], "nice": false},
                 "axis": {"orient": "right", "values": [0, 1, 2], "tickSize": -4, "tickColor": "#ff00ff", "labelPadding": 10, "labelFontSize": 18, "labelColor": "#ff00ff", "domain": true, "domainColor": "#ff00ff", "title": null}},
           "color": {"datum": "pDA"}}},
        {"data": {"name": "quinault_pda"}, "mark": {"type": "point", "filled": true, "size": 50, "opacity": 1},
         "encoding": {"x": {"field": "date", "type": "temporal"}, "y": {"field": "pDA", "type": "quantitative"}, "color": {"datum": "pDA"}}}
      ]}
     ]},
    {"width": 469, "height": 86, "resolve": {"scale": {"y": "independent"}},
     "layer": [
      {"layer": [
        {"data": {"name": "copalis"}, "mark": {"type": "line", "strokeWidth": 1, "clip": true},
         "encoding": {
           "x": {"field": "date", "type": "temporal", "scale": {"type": "utc", "domain": [1672531200000, 1704067200000]},
                 "axis": {"orient": "bottom", "values": [1672531200000,1673740800000,1675209600000,1676419200000,1677628800000,1678838400000,1680307200000,1681516800000,1682899200000,1684108800000,1685577600000,1686787200000,1688169600000,1689379200000,1690848000000,1692057600000,1693526400000,1694736000000,1696118400000,1697328000000,1698796800000,1700006400000,1701388800000,1702598400000], "labels": false, "tickSize": -4, "tickColor": "#555555", "domain": false, "title": null}},
           "y": {"field": "small", "type": "quantitative", "scale": {"domain": [0, 2500], "nice": false},
                 "axis": {"orient": "left", "values": [0, 1000, 2000], "format": "d", "tickSize": -4, "tickColor": "#555555", "labelPadding": 11, "labelFontSize": 18, "labelColor": "#262626", "domain": false, "title": null}},
           "color": {"datum": "small PN"}}},
        {"data": {"name": "copalis"}, "mark": {"type": "point", "filled": true, "size": 50, "opacity": 1},
         "encoding": {"x": {"field": "date", "type": "temporal"}, "y": {"field": "small", "type": "quantitative"}, "color": {"datum": "small PN"}}},
        {"data": {"name": "copalis"}, "mark": {"type": "line", "strokeWidth": 1, "clip": true},
         "encoding": {"x": {"field": "date", "type": "temporal"}, "y": {"field": "large", "type": "quantitative"}, "color": {"datum": "large PN"}}},
        {"data": {"name": "copalis"}, "transform": [{"filter": "datum.large <= 2500"}], "mark": {"type": "point", "filled": true, "size": 50, "opacity": 1},
         "encoding": {"x": {"field": "date", "type": "temporal"}, "y": {"field": "large", "type": "quantitative"}, "color": {"datum": "large PN"}}},
        {"data": {"name": "labels"}, "transform": [{"filter": "datum.id === 'copalis'"}],
         "layer": [
           {"mark": {"type": "text", "align": "left", "baseline": "alphabetic", "fontSize": 17.5, "fontWeight": "bold", "color": "#000000"},
            "encoding": {"x": {"datum": {"year": 2023, "month": 1, "date": 12, "utc": true}, "type": "temporal"}, "y": {"datum": 1930, "type": "quantitative"}, "text": {"field": "name"}}},
           {"mark": {"type": "text", "align": "left", "baseline": "alphabetic", "fontSize": 17.5, "fontWeight": "bold", "color": "#000000"},
            "encoding": {"x": {"datum": {"year": 2023, "month": 1, "date": 12, "utc": true}, "type": "temporal"}, "y": {"datum": 1350, "type": "quantitative"}, "text": {"field": "last"}}},
           {"mark": {"type": "text", "align": "left", "baseline": "alphabetic", "fontSize": 17.5, "fontWeight": "bold", "color": "#1482fa"},
            "encoding": {"x": {"datum": {"year": 2023, "month": 1, "date": 16, "utc": true}, "type": "temporal"}, "y": {"datum": 810, "type": "quantitative"}, "text": {"field": "small"}}},
           {"mark": {"type": "text", "align": "left", "baseline": "alphabetic", "fontSize": 17.5, "fontWeight": "bold", "color": "#0c9f50"},
            "encoding": {"x": {"datum": {"year": 2023, "month": 1, "date": 16, "utc": true}, "type": "temporal"}, "y": {"datum": 325, "type": "quantitative"}, "text": {"field": "large"}}}
         ]}
      ]},
      {"layer": [
        {"data": {"name": "copalis_pda"}, "mark": {"type": "line", "strokeWidth": 1, "clip": true},
         "encoding": {
           "x": {"field": "date", "type": "temporal", "scale": {"type": "utc", "domain": [1672531200000, 1704067200000]},
                 "axis": {"orient": "top", "values": [1672531200000,1673740800000,1675209600000,1676419200000,1677628800000,1678838400000,1680307200000,1681516800000,1682899200000,1684108800000,1685577600000,1686787200000,1688169600000,1689379200000,1690848000000,1692057600000,1693526400000,1694736000000,1696118400000,1697328000000,1698796800000,1700006400000,1701388800000,1702598400000], "labels": false, "tickSize": -4, "tickColor": "#555555", "domain": false, "title": null}},
           "y": {"field": "pDA", "type": "quantitative", "scale": {"domain": [0, 2.5], "nice": false},
                 "axis": {"orient": "right", "values": [0, 1, 2], "tickSize": -4, "tickColor": "#ff00ff", "labelPadding": 10, "labelFontSize": 18, "labelColor": "#ff00ff", "domain": true, "domainColor": "#ff00ff", "title": null}},
           "color": {"datum": "pDA"}}},
        {"data": {"name": "copalis_pda"}, "mark": {"type": "point", "filled": true, "size": 50, "opacity": 1},
         "encoding": {"x": {"field": "date", "type": "temporal"}, "y": {"field": "pDA", "type": "quantitative"}, "color": {"datum": "pDA"}}}
      ]}
     ]},
    {"width": 469, "height": 86, "resolve": {"scale": {"y": "independent"}},
     "layer": [
      {"layer": [
        {"data": {"name": "twin"}, "mark": {"type": "line", "strokeWidth": 1, "clip": true},
         "encoding": {
           "x": {"field": "date", "type": "temporal", "scale": {"type": "utc", "domain": [1672531200000, 1704067200000]},
                 "axis": {"orient": "bottom", "values": [1672531200000,1673740800000,1675209600000,1676419200000,1677628800000,1678838400000,1680307200000,1681516800000,1682899200000,1684108800000,1685577600000,1686787200000,1688169600000,1689379200000,1690848000000,1692057600000,1693526400000,1694736000000,1696118400000,1697328000000,1698796800000,1700006400000,1701388800000,1702598400000], "labels": false, "tickSize": -4, "tickColor": "#555555", "domain": false, "title": null}},
           "y": {"field": "small", "type": "quantitative", "scale": {"domain": [0, 2500], "nice": false},
                 "axis": {"orient": "left", "values": [0, 1000, 2000], "format": "d", "tickSize": -4, "tickColor": "#555555", "labelPadding": 11, "labelFontSize": 18, "labelColor": "#262626", "domain": false, "title": null}},
           "color": {"datum": "small PN"}}},
        {"data": {"name": "twin"}, "mark": {"type": "point", "filled": true, "size": 50, "opacity": 1},
         "encoding": {"x": {"field": "date", "type": "temporal"}, "y": {"field": "small", "type": "quantitative"}, "color": {"datum": "small PN"}}},
        {"data": {"name": "twin"}, "mark": {"type": "line", "strokeWidth": 1, "clip": true},
         "encoding": {"x": {"field": "date", "type": "temporal"}, "y": {"field": "large", "type": "quantitative"}, "color": {"datum": "large PN"}}},
        {"data": {"name": "twin"}, "transform": [{"filter": "datum.large <= 2500"}], "mark": {"type": "point", "filled": true, "size": 50, "opacity": 1},
         "encoding": {"x": {"field": "date", "type": "temporal"}, "y": {"field": "large", "type": "quantitative"}, "color": {"datum": "large PN"}}},
        {"data": {"name": "labels"}, "transform": [{"filter": "datum.id === 'twin'"}],
         "layer": [
           {"mark": {"type": "text", "align": "left", "baseline": "alphabetic", "fontSize": 17.5, "fontWeight": "bold", "color": "#000000"},
            "encoding": {"x": {"datum": {"year": 2023, "month": 1, "date": 12, "utc": true}, "type": "temporal"}, "y": {"datum": 1930, "type": "quantitative"}, "text": {"field": "name"}}},
           {"mark": {"type": "text", "align": "left", "baseline": "alphabetic", "fontSize": 17.5, "fontWeight": "bold", "color": "#000000"},
            "encoding": {"x": {"datum": {"year": 2023, "month": 1, "date": 12, "utc": true}, "type": "temporal"}, "y": {"datum": 1350, "type": "quantitative"}, "text": {"field": "last"}}},
           {"mark": {"type": "text", "align": "left", "baseline": "alphabetic", "fontSize": 17.5, "fontWeight": "bold", "color": "#1482fa"},
            "encoding": {"x": {"datum": {"year": 2023, "month": 1, "date": 16, "utc": true}, "type": "temporal"}, "y": {"datum": 810, "type": "quantitative"}, "text": {"field": "small"}}},
           {"mark": {"type": "text", "align": "left", "baseline": "alphabetic", "fontSize": 17.5, "fontWeight": "bold", "color": "#0c9f50"},
            "encoding": {"x": {"datum": {"year": 2023, "month": 1, "date": 16, "utc": true}, "type": "temporal"}, "y": {"datum": 325, "type": "quantitative"}, "text": {"field": "large"}}}
         ]}
      ]},
      {"layer": [
        {"data": {"name": "twin_pda"}, "mark": {"type": "line", "strokeWidth": 1, "clip": true},
         "encoding": {
           "x": {"field": "date", "type": "temporal", "scale": {"type": "utc", "domain": [1672531200000, 1704067200000]},
                 "axis": {"orient": "top", "values": [1672531200000,1673740800000,1675209600000,1676419200000,1677628800000,1678838400000,1680307200000,1681516800000,1682899200000,1684108800000,1685577600000,1686787200000,1688169600000,1689379200000,1690848000000,1692057600000,1693526400000,1694736000000,1696118400000,1697328000000,1698796800000,1700006400000,1701388800000,1702598400000], "labels": false, "tickSize": -4, "tickColor": "#555555", "domain": false, "title": null}},
           "y": {"field": "pDA", "type": "quantitative", "scale": {"domain": [0, 2.5], "nice": false},
                 "axis": {"orient": "right", "values": [0, 1, 2], "tickSize": -4, "tickColor": "#ff00ff", "labelPadding": 10, "labelFontSize": 18, "labelColor": "#ff00ff", "domain": true, "domainColor": "#ff00ff", "title": null}},
           "color": {"datum": "pDA"}}},
        {"data": {"name": "twin_pda"}, "mark": {"type": "point", "filled": true, "size": 50, "opacity": 1},
         "encoding": {"x": {"field": "date", "type": "temporal"}, "y": {"field": "pDA", "type": "quantitative"}, "color": {"datum": "pDA"}}}
      ]}
     ]},
    {"width": 469, "height": 86, "resolve": {"scale": {"y": "independent"}},
     "layer": [
      {"layer": [
        {"data": {"name": "long"}, "mark": {"type": "line", "strokeWidth": 1, "clip": true},
         "encoding": {
           "x": {"field": "date", "type": "temporal", "scale": {"type": "utc", "domain": [1672531200000, 1704067200000]},
                 "axis": {"orient": "bottom", "values": [1672531200000,1673740800000,1675209600000,1676419200000,1677628800000,1678838400000,1680307200000,1681516800000,1682899200000,1684108800000,1685577600000,1686787200000,1688169600000,1689379200000,1690848000000,1692057600000,1693526400000,1694736000000,1696118400000,1697328000000,1698796800000,1700006400000,1701388800000,1702598400000],
                          "labels": true, "labelExpr": "utcdate(datum.value) == 1 ? utcFormat(datum.value, '%b') : ''", "labelFlush": false, "labelOverlap": false, "labelBound": false,
                          "labelFontSize": 17.5, "labelColor": "#262626", "labelPadding": 14.5, "tickSize": -4, "tickColor": "#555555", "domain": false,
                          "title": "Month in 2023", "titleFontSize": 20.5, "titleFontWeight": "normal", "titleColor": "#262626", "titlePadding": 4}},
           "y": {"field": "small", "type": "quantitative", "scale": {"domain": [0, 2500], "nice": false},
                 "axis": {"orient": "left", "values": [0, 1000, 2000], "format": "d", "tickSize": -4, "tickColor": "#555555", "labelPadding": 11, "labelFontSize": 18, "labelColor": "#262626", "domain": false, "title": null}},
           "color": {"datum": "small PN"}}},
        {"data": {"name": "long"}, "mark": {"type": "point", "filled": true, "size": 50, "opacity": 1},
         "encoding": {"x": {"field": "date", "type": "temporal"}, "y": {"field": "small", "type": "quantitative"}, "color": {"datum": "small PN"}}},
        {"data": {"name": "long"}, "mark": {"type": "line", "strokeWidth": 1, "clip": true},
         "encoding": {"x": {"field": "date", "type": "temporal"}, "y": {"field": "large", "type": "quantitative"}, "color": {"datum": "large PN"}}},
        {"data": {"name": "long"}, "transform": [{"filter": "datum.large <= 2500"}], "mark": {"type": "point", "filled": true, "size": 50, "opacity": 1},
         "encoding": {"x": {"field": "date", "type": "temporal"}, "y": {"field": "large", "type": "quantitative"}, "color": {"datum": "large PN"}}},
        {"data": {"name": "labels"}, "transform": [{"filter": "datum.id === 'long'"}],
         "layer": [
           {"mark": {"type": "text", "align": "left", "baseline": "alphabetic", "fontSize": 17.5, "fontWeight": "bold", "color": "#000000"},
            "encoding": {"x": {"datum": {"year": 2023, "month": 1, "date": 12, "utc": true}, "type": "temporal"}, "y": {"datum": 1930, "type": "quantitative"}, "text": {"field": "name"}}},
           {"mark": {"type": "text", "align": "left", "baseline": "alphabetic", "fontSize": 17.5, "fontWeight": "bold", "color": "#000000"},
            "encoding": {"x": {"datum": {"year": 2023, "month": 1, "date": 12, "utc": true}, "type": "temporal"}, "y": {"datum": 1350, "type": "quantitative"}, "text": {"field": "last"}}},
           {"mark": {"type": "text", "align": "left", "baseline": "alphabetic", "fontSize": 17.5, "fontWeight": "bold", "color": "#1482fa"},
            "encoding": {"x": {"datum": {"year": 2023, "month": 1, "date": 16, "utc": true}, "type": "temporal"}, "y": {"datum": 810, "type": "quantitative"}, "text": {"field": "small"}}},
           {"mark": {"type": "text", "align": "left", "baseline": "alphabetic", "fontSize": 17.5, "fontWeight": "bold", "color": "#0c9f50"},
            "encoding": {"x": {"datum": {"year": 2023, "month": 1, "date": 16, "utc": true}, "type": "temporal"}, "y": {"datum": 325, "type": "quantitative"}, "text": {"field": "large"}}}
         ]}
      ]},
      {"layer": [
        {"data": {"name": "long_pda"}, "mark": {"type": "line", "strokeWidth": 1, "clip": true},
         "encoding": {
           "x": {"field": "date", "type": "temporal", "scale": {"type": "utc", "domain": [1672531200000, 1704067200000]},
                 "axis": {"orient": "top", "values": [1672531200000,1673740800000,1675209600000,1676419200000,1677628800000,1678838400000,1680307200000,1681516800000,1682899200000,1684108800000,1685577600000,1686787200000,1688169600000,1689379200000,1690848000000,1692057600000,1693526400000,1694736000000,1696118400000,1697328000000,1698796800000,1700006400000,1701388800000,1702598400000], "labels": false, "tickSize": -4, "tickColor": "#555555", "domain": false, "title": null}},
           "y": {"field": "pDA", "type": "quantitative", "scale": {"domain": [0, 2.5], "nice": false},
                 "axis": {"orient": "right", "values": [0, 1, 2], "tickSize": -4, "tickColor": "#ff00ff", "labelPadding": 10, "labelFontSize": 18, "labelColor": "#ff00ff", "domain": true, "domainColor": "#ff00ff", "title": null}},
           "color": {"datum": "pDA"}}},
        {"data": {"name": "long_pda"}, "mark": {"type": "point", "filled": true, "size": 50, "opacity": 1},
         "encoding": {"x": {"field": "date", "type": "temporal"}, "y": {"field": "pDA", "type": "quantitative"}, "color": {"datum": "pDA"}}}
      ]}
     ]}
  ]
}
